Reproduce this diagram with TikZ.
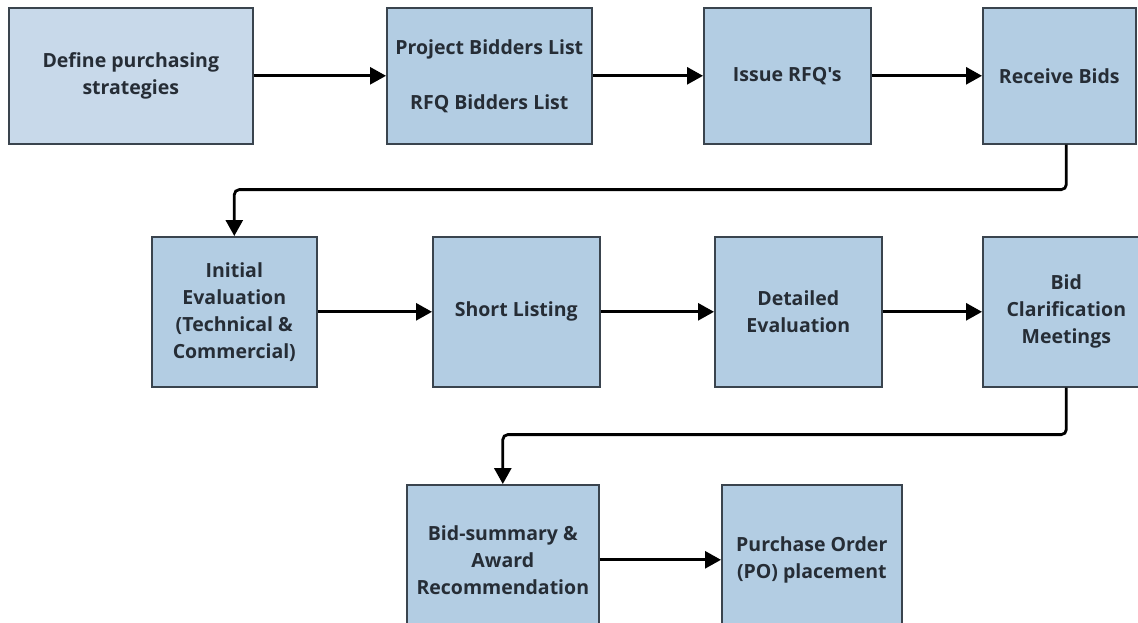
\documentclass[tikz,border=0pt]{standalone}
\usepackage{fontspec}
\setmainfont{Open Sans}[Ligatures=TeXOff]
\usetikzlibrary{arrows.meta,calc}
\definecolor{boxfill}{HTML}{B3CDE3}
\definecolor{boxfilllight}{HTML}{C8D9EA}
\definecolor{boxline}{HTML}{3A444E}
\definecolor{labelink}{HTML}{262D36}
\begin{document}
\begin{tikzpicture}[x=1pt,y=-1pt,
  stepbox/.style={draw=boxline,line width=1.6pt,fill=boxfill,text=labelink,
    font=\fontsize{19.5}{27}\selectfont\bfseries,align=center,inner sep=0pt,
    anchor=north west},
  flow/.style={line width=2.8pt,draw=black,rounded corners=5pt,
    -{Triangle[length=16pt,width=17pt]}}]
\useasboundingbox (0,0) rectangle (1138,622);
\clip (0,0) rectangle (1138,622);

% first row
\node[stepbox,fill=boxfilllight,minimum width=244pt,minimum height=136pt] (b1) at (8,7)
  {Define purchasing\\strategies};
\node[stepbox,minimum width=205pt,minimum height=136pt] (b2) at (386,7)
  {Project Bidders List\\[28pt]RFQ Bidders List};
\node[stepbox,minimum width=167pt,minimum height=136pt] (b3) at (703,7) {Issue RFQ's};
\node[stepbox,minimum width=153pt,minimum height=136pt] (b4) at (982,7) {Receive Bids};

% second row
\node[stepbox,minimum width=165pt,minimum height=150pt] (b5) at (151,236)
  {Initial\\Evaluation\\(Technical \&\\Commercial)};
\node[stepbox,minimum width=167pt,minimum height=150pt] (b6) at (432,236) {Short Listing};
\node[stepbox,minimum width=167pt,minimum height=150pt] (b7) at (714,236)
  {Detailed\\Evaluation};
\node[stepbox,minimum width=167pt,minimum height=150pt] (b8) at (982,236)
  {Bid\\Clarification\\Meetings};

% third row
\node[stepbox,minimum width=192pt,minimum height=150pt] (b9) at (406,484)
  {Bid-summary \&\\Award\\Recommendation};
\node[stepbox,minimum width=180pt,minimum height=150pt] (b10) at (721,484)
  {Purchase Order\\(PO) placement};

% connectors
\draw[flow] (b1) -- (b2);
\draw[flow] (b2) -- (b3);
\draw[flow] (b3) -- (b4);
\draw[flow] (b4.south -| b8) -- ++(0,45) -| (b5.north);
\draw[flow] (b5) -- (b6);
\draw[flow] (b6) -- (b7);
\draw[flow] (b7) -- (b8);
\draw[flow] (b8.south) -- ++(0,47) -| (b9.north);
\draw[flow] (b9) -- (b10);
\end{tikzpicture}
\end{document}
